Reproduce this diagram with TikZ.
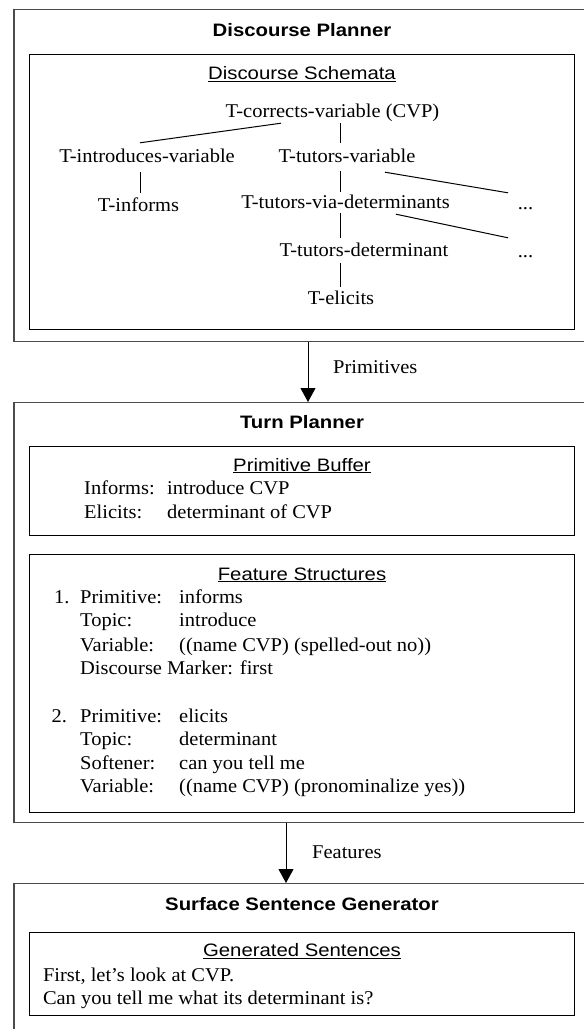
\documentclass[tikz,border=0pt]{standalone}
\usepackage{fontspec}
\setmainfont{Liberation Serif}[FakeStretch=1.05]
\newfontfamily\sansf{Liberation Sans}[FakeStretch=1.13]
\usetikzlibrary{calc,arrows.meta}
\begin{document}
\begin{tikzpicture}[x=1pt,y=-1pt,
  serif/.style={font=\fontsize{19.5}{23}\selectfont, inner sep=0pt, anchor=base west},
  tree/.style={font=\fontsize{19.5}{23}\selectfont, inner sep=0pt, anchor=base, text height=14pt, text depth=4pt},
  ttl/.style={font=\sansf\bfseries\fontsize{18}{21}\selectfont, inner sep=0pt, anchor=base},
  sub/.style={font=\sansf\fontsize{18}{21}\selectfont, inner sep=0pt, anchor=base},
  outerbox/.style={draw=black!70, line width=1.1pt, anchor=north west, inner sep=0pt},
  innerbox/.style={draw=black, line width=1pt, anchor=north west, inner sep=0pt},
  link/.style={draw=black, line width=1pt},
  arr/.style={draw=black, line width=1pt, -{Triangle[width=15pt,length=14pt]}}]
\useasboundingbox (0,0) rectangle (584,1029);
\fill[white] (0,0) rectangle (584,1029);
\clip (0,0) rectangle (584,1029);
% boxes
\node[outerbox, minimum width=620pt, minimum height=331.7pt] (dp) at (13.4,9) {};
\node[outerbox, minimum width=620pt, minimum height=420pt] (tp) at (13.4,402) {};
\node[outerbox, minimum width=620pt, minimum height=200pt] (ssg) at (13.4,883) {};
\node[innerbox, minimum width=545.3pt, minimum height=275pt] (ds) at (29,54) {};
\node[innerbox, minimum width=545.3pt, minimum height=89pt] (pb) at (29,446) {};
\node[innerbox, minimum width=545.3pt, minimum height=258pt] (fs) at (29,554) {};
\node[innerbox, minimum width=545.3pt, minimum height=83pt] (gs) at (29,932) {};
% arrows
\coordinate (ax1) at (308,0);
\coordinate (ax2) at (286,0);
\draw[arr] (dp.south -| ax1) -- (tp.north -| ax1);
\draw[arr] (tp.south -| ax2) -- (ssg.north -| ax2);
\node[serif] (priml) at (333,373.3) {Primitives};
\node[serif] (featl) at (312,858.3) {Features};
% discourse planner
\node[ttl] (dpt) at (302,36) {Discourse Planner};
\node[sub] (dst) at (302,79.5) {\underline{Discourse Schemata}};
\node[tree] (cvp) at (332.5,117.3) {T-corrects-variable (CVP)};
\node[tree] (intro) at (147,162.7) {T-introduces-variable};
\node[tree] (tutvar) at (347,162.7) {T-tutors-variable};
\node[tree] (informs) at (138.5,211.7) {T-informs};
\node[tree] (via) at (345.5,208.3) {T-tutors-via-determinants};
\node[tree] (dotsA) at (525.5,209) {...};
\node[tree] (tutdet) at (364,256.7) {T-tutors-determinant};
\node[tree] (dotsB) at (525.5,257) {...};
\node[tree] (elic) at (341,304.3) {T-elicits};
\draw[link] ($(cvp.south)+(-51.5,1.7)$) -- ($(intro.north)+(-7,-5.7)$);
\draw[link] ($(cvp.south)+(7.5,1.7)$) -- ($(tutvar.north)+(-7,-5.7)$);
\draw[link] ($(intro.south)+(-7,5.3)$) -- ($(informs.north)+(1.5,-4.7)$);
\draw[link] ($(tutvar.south)+(-7,4.3)$) -- ($(via.north)+(-5.5,-2.3)$);
\draw[link] ($(tutvar.south)+(38,5.3)$) -- ($(dotsA.north)+(-17.5,-2)$);
\draw[link] ($(via.south)+(-5.5,0.7)$) -- ($(tutdet.north)+(-24,-4.7)$);
\draw[link] ($(via.south)+(50.5,1.7)$) -- ($(dotsB.north)+(-17.5,-5)$);
\draw[link] ($(tutdet.south)+(-24,2.3)$) -- ($(elic.north)+(-1,-3.3)$);
% turn planner
\node[ttl] (tpt) at (302,428.3) {Turn Planner};
\node[sub] (pbt) at (302,471) {\underline{Primitive Buffer}};
\node[serif] (pb1) at (84,494) {\makebox[83pt][l]{Informs:}introduce CVP};
\node[serif] (pb2) at (84,518.3) {\makebox[83pt][l]{Elicits:}determinant of CVP};
\node[sub] (fst) at (302,580) {\underline{Feature Structures}};
\node[serif] (f1) at (54,603.3) {\makebox[26pt][l]{1.}\makebox[99pt][l]{Primitive:}informs};
\node[serif] (f2) at (80,626.7) {\makebox[99pt][l]{Topic:}introduce};
\node[serif] (f3) at (80,651.7) {\makebox[99pt][l]{Variable:}((name CVP) (spelled-out no))};
\node[serif] (f4) at (80,674) {Discourse Marker: first};
\node[serif] (g1) at (51.4,722.3) {\makebox[28.6pt][l]{2.}\makebox[99pt][l]{Primitive:}elicits};
\node[serif] (g2) at (80,745) {\makebox[99pt][l]{Topic:}determinant};
\node[serif] (g3) at (80,769.3) {\makebox[99pt][l]{Softener:}can you tell me};
\node[serif] (g4) at (80,792.3) {\makebox[99pt][l]{Variable:}((name CVP) (pronominalize yes))};
% surface sentence generator
\node[ttl] (ssgt) at (302,910) {Surface Sentence Generator};
\node[sub] (gst) at (302,956.7) {\underline{Generated Sentences}};
\node[serif] (s1) at (42.8,981.7) {First, let’s look at CVP.};
\node[serif] (s2) at (42.8,1004) {Can you tell me what its determinant is?};
\end{tikzpicture}
\end{document}
